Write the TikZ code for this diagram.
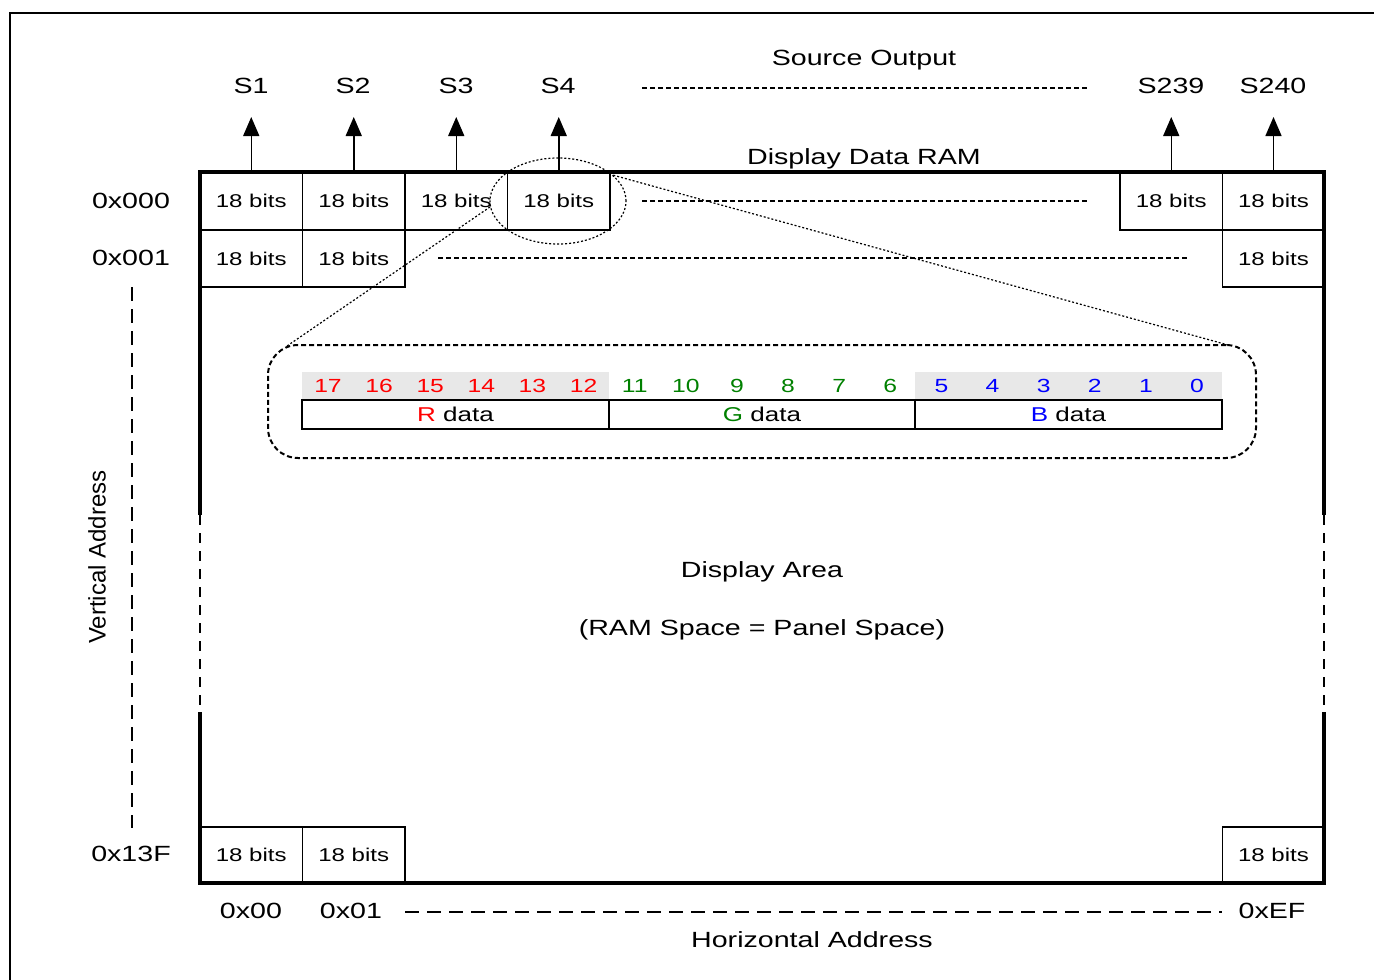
\documentclass[tikz,border=0pt]{standalone}
\usepackage{fontspec}
\setmainfont{Liberation Sans}[FakeStretch=1.3]
\newfontfamily\rotfont{Liberation Sans}
\usetikzlibrary{arrows.meta,shapes.geometric}
\definecolor{bitgray}{HTML}{E8E8E8}
\definecolor{rred}{HTML}{FF0000}
\definecolor{ggreen}{HTML}{008000}
\definecolor{bblue}{HTML}{0000FF}
\tikzset{
 lbl/.style={inner sep=0pt, text height=15.75pt, text depth=0pt, font=\fontsize{22}{25}\selectfont},
 cell/.style={draw, line width=1.3pt, inner sep=0pt, minimum width=102.5pt, minimum height=57.5pt, text height=13pt, text depth=0pt, font=\fontsize{18.5}{22}\selectfont},
 bitnum/.style={inner sep=0pt, text height=13.5pt, text depth=0pt, font=\fontsize{19}{22}\selectfont},
 databox/.style={draw, line width=1.3pt, minimum width=307pt, minimum height=29pt, inner sep=0pt, text height=14pt, text depth=0pt, font=\fontsize{20}{24}\selectfont},
 arr/.style={line width=1.5pt, -{Triangle[length=19pt,width=16pt]}},
 fine dash/.style={line width=2pt, dash pattern=on 5pt off 3pt},
 long dash/.style={line width=1.3pt, dash pattern=on 14pt off 8pt},
 thick border/.style={line width=4pt},
 zoomdot/.style={line width=1.2pt, dash pattern=on 2pt off 2pt},
}
\begin{document}
\begin{tikzpicture}[x=1pt,y=-1pt]
\useasboundingbox (0,0) rectangle (1374,980);
% outer frame
\draw[line width=2pt] (10,980) -- (10,13) -- (1374,13);

% cells row 0
\node[cell, minimum height=58pt] (r0c1) at (251.25,201) {18 bits};
\node[cell, minimum height=58pt] (r0c2) at (353.75,201) {18 bits};
\node[cell, minimum height=58pt] (r0c3) at (456.25,201) {18 bits};
\node[cell, minimum height=58pt] (r0c4) at (558.75,201) {18 bits};
\node[cell, minimum height=58pt] (r0c239) at (1171.25,201) {18 bits};
\node[cell, minimum height=58pt] (r0c240) at (1273.5,201) {18 bits};
% row 1
\node[cell, minimum height=57pt] (r1c1) at (251.25,258.5) {18 bits};
\node[cell, minimum height=57pt] (r1c2) at (353.75,258.5) {18 bits};
\node[cell, minimum height=57pt] (r1c240) at (1273.5,258.5) {18 bits};
% last row
\node[cell, minimum height=56pt] (rLc1) at (251.25,855) {18 bits};
\node[cell, minimum height=56pt] (rLc2) at (353.75,855) {18 bits};
\node[cell, minimum height=56pt] (rLc240) at (1273.5,855) {18 bits};

% RAM border
\draw[thick border] (200,515) -- (200,172) -- (1324,172) -- (1324,515);
\draw[thick border] (200,712) -- (200,883) -- (1324,883) -- (1324,712);
\draw[line width=1.5pt, dash pattern=on 10pt off 8pt] (200,515) -- (200,712);
\draw[line width=1.5pt, dash pattern=on 10pt off 8pt] (1324,515) -- (1324,712);

% source labels and arrows
\node[lbl] (s1) at (251,86) {S1};
\node[lbl] (s2) at (353,86) {S2};
\node[lbl] (s3) at (456,86) {S3};
\node[lbl] (s4) at (558,86) {S4};
\node[lbl] (s239) at (1171,86) {S239};
\node[lbl] (s240) at (1273,86) {S240};
\coordinate (t1) at (251.25,117);
\coordinate (t2) at (353.75,117);
\coordinate (t3) at (456.25,117);
\coordinate (t4) at (558.75,117);
\coordinate (t239) at (1171.25,117);
\coordinate (t240) at (1273.5,117);
\draw[arr] (r0c1.north) -- (t1);
\draw[arr] (r0c2.north) -- (t2);
\draw[arr] (r0c3.north) -- (t3);
\draw[arr] (r0c4.north) -- (t4);
\draw[arr] (r0c239.north) -- (t239);
\draw[arr] (r0c240.north) -- (t240);

\node[lbl] (srcout) at (864,58) {Source Output};
\node[lbl] (ddram) at (864,157) {Display Data RAM};

% dashed continuation lines
\coordinate (so1) at (642,88); \coordinate (so2) at (1087,88);
\draw[fine dash] (so1) -- (so2);
\coordinate (ra1) at (642,201); \coordinate (ra2) at (1087,201);
\draw[fine dash] (ra1) -- (ra2);
\coordinate (rb1) at (438,258); \coordinate (rb2) at (1187,258);
\draw[fine dash] (rb1) -- (rb2);

% addresses
\node[lbl] (a000) at (131,201) {0x000};
\node[lbl] (a001) at (131,258) {0x001};
\node[lbl] (a13f) at (131,854) {0x13F};
\coordinate (va1) at (132,287); \coordinate (va2) at (132,828);
\draw[long dash] (va1) -- (va2);
\node[lbl, text height=17pt, font=\rotfont\fontsize{24}{26}\selectfont, rotate=90] (vaddr) at (97,557) {Vertical Address};

\node[lbl] (h00) at (251,911) {0x00};
\node[lbl] (h01) at (351,911) {0x01};
\node[lbl] (hef) at (1272,911) {0xEF};
\coordinate (ha1) at (405,912); \coordinate (ha2) at (1222,912);
\draw[long dash] (ha1) -- (ha2);
\node[lbl] (haddr) at (812,940) {Horizontal Address};

\node[lbl] (darea) at (762,570) {Display Area};
\node[lbl] (rps) at (762,628) {(RAM Space = Panel Space)};

% detail box
\node[draw, rounded corners=30pt, fine dash, minimum width=988pt, minimum height=113pt, inner sep=0pt] (detail) at (762,401.5) {};
\fill[bitgray] (302,372) rectangle (609,400);
\fill[bitgray] (915,372) rectangle (1222,400);
\foreach \b in {17,16,15,14,13,12}
  \node[bitnum, text=rred] (b\b) at ({328+51.12*(17-\b)},386) {\b};
\foreach \b in {11,10,9,8,7,6}
  \node[bitnum, text=ggreen] (b\b) at ({328+51.12*(17-\b)},386) {\b};
\foreach \b in {5,4,3,2,1,0}
  \node[bitnum, text=bblue] (b\b) at ({328+51.12*(17-\b)},386) {\b};
\node[databox] (rdata) at (455.5,414.5) {\textcolor{rred}{R} data};
\node[databox] (gdata) at (762,414.5) {\textcolor{ggreen}{G} data};
\node[databox] (bdata) at (1068.5,414.5) {\textcolor{bblue}{B} data};

% zoom ellipse and lines
\node[draw, ellipse, zoomdot, minimum width=136pt, minimum height=86pt, inner sep=0pt] (zoom) at (558,201) {};
\coordinate (dl) at (287,346);
\coordinate (dr) at (1228,345);
\draw[zoomdot] (zoom.185) -- (dl);
\draw[zoomdot] (zoom.25) -- (dr);
\end{tikzpicture}
\end{document}
